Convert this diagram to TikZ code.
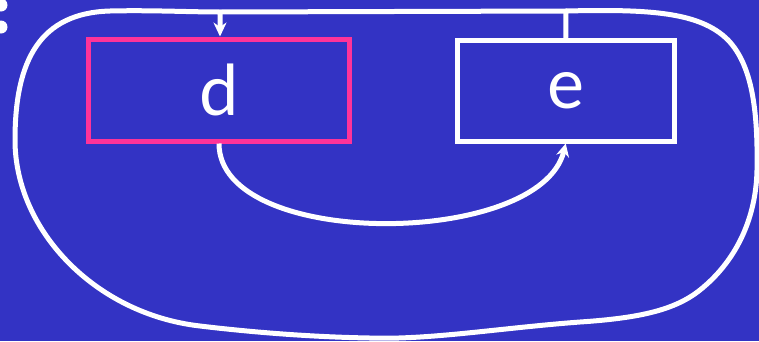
\documentclass[tikz,border=0pt]{standalone}
\usepackage{fontspec}
\setmainfont{Lato}
\usetikzlibrary{arrows.meta}
\definecolor{bg}{RGB}{51,51,196}
\definecolor{pinkc}{RGB}{255,51,153}
\tikzset{
  boxd/.style={draw=pinkc, line width=5pt, minimum width=261pt, minimum height=102pt, text=white, font=\fontsize{70}{76}\selectfont, inner sep=0pt},
  boxe/.style={draw=white, line width=5pt, minimum width=217pt, minimum height=101pt, text=white, font=\fontsize{70}{76}\selectfont, inner sep=0pt},
  wire/.style={draw=white, line width=5pt, line cap=round, line join=round},
  conn/.style={draw=white, line width=5pt, -{Stealth[length=13pt,width=13pt]}},
}
\begin{document}
\begin{tikzpicture}[x=1pt,y=-1pt]
\fill[bg] (0,0) rectangle (759,341);
\useasboundingbox (0,0) rectangle (759,341);
\begin{scope}
\clip (0,0) rectangle (759,341);
\fill[white] (1,5) circle (6.5);
\fill[white] (1,27) circle (6.5);
\end{scope}
\node[boxd] (d) at (219,90) {d};
\node[boxe] (e) at (565.75,90.5) {e};
\coordinate (tope) at (566,11);
\coordinate (topd) at (220,12);
% curve from d to e
\draw[conn] (d.south) .. controls (219,250) and (540,248) .. (e.south);
% big loop
\draw[wire] (topd) -- (tope);
\draw[wire, -{Stealth[length=14pt,width=13pt]}] (e.north) -- (tope)
  .. controls (650,9) and (700,12) .. (728,40)
  .. controls (752,65) and (758,110) .. (757,170)
  .. controls (756,220) and (735,262) .. (700,290)
  .. controls (675,310) and (640,318) .. (580,322)
  .. controls (500,328) and (430,340) .. (370,338)
  .. controls (310,337) and (250,332) .. (200,326)
  .. controls (95,314) and (15,230) .. (15,140)
  .. controls (15,60) and (40,13) .. (110,11)
  .. controls (150,10) and (190,12) .. (topd)
  -- (d.north -| topd);
\end{tikzpicture}
\end{document}
